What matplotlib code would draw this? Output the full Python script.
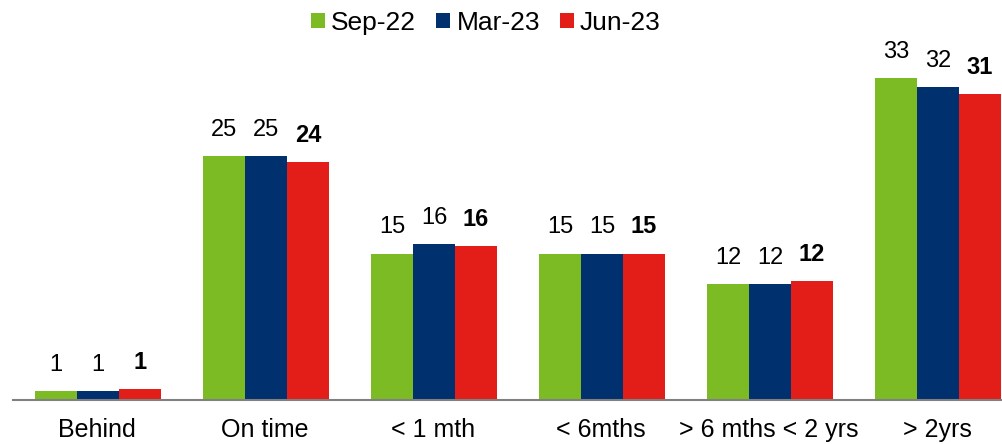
import matplotlib
matplotlib.use("Agg")
import matplotlib.pyplot as plt
import numpy as np

categories = ["Behind", "On time", "< 1 mth", "< 6mths", "> 6 mths < 2 yrs", "> 2yrs"]
series_names = ["Sep-22", "Mar-23", "Jun-23"]
sep22 = [0.9, 25.0, 15.0, 15.0, 11.9, 33.0]
mar23 = [0.9, 25.0, 16.0, 15.0, 11.9, 32.1]
jun23 = [1.1, 24.4, 15.8, 15.0, 12.2, 31.4]
colors = ["#7CBB23", "#00306E", "#E31E18"]

plt.rcParams['font.family'] = ['Liberation Sans', 'DejaVu Sans']

fig = plt.figure(figsize=(10.02, 4.44), dpi=100)
ax = fig.add_axes([13/1002, 44/444, 989/1002, 350/444])

x = np.arange(len(categories))
w = 0.25
series = [sep22, mar23, jun23]
for i, (vals, name, c) in enumerate(zip(series, series_names, colors)):
    pos = x + (i - 1) * w + 0.006
    ax.bar(pos, vals, width=w, color=c, label=name, edgecolor='none')
    for p, v in zip(pos, vals):
        ax.annotate(f"{v:.0f}", (p, v), xytext=(0, 11), textcoords="offset points",
                    ha='center', va='bottom', fontsize=17,
                    fontweight='bold' if i == 2 else 'normal', color='black')

ax.set_xlim(-0.5, (1002 - 97) / 168)
ax.set_ylim(0, 35.9)
ax.set_xticks(x)
ax.set_xticklabels(categories, fontsize=18)
ax.tick_params(axis='x', length=0, pad=13)
ax.set_yticks([])
for s in ['top', 'right', 'left']:
    ax.spines[s].set_visible(False)
ax.spines['bottom'].set_color('#808080')
ax.spines['bottom'].set_linewidth(1.5)

fig.legend(loc='center', bbox_to_anchor=(486/1002, 1 - 23/444), ncol=3, frameon=False,
           fontsize=19, handlelength=0.53, handleheight=0.53, handletextpad=0.23,
           columnspacing=0.76)

fig.savefig("out.png", dpi=100)
